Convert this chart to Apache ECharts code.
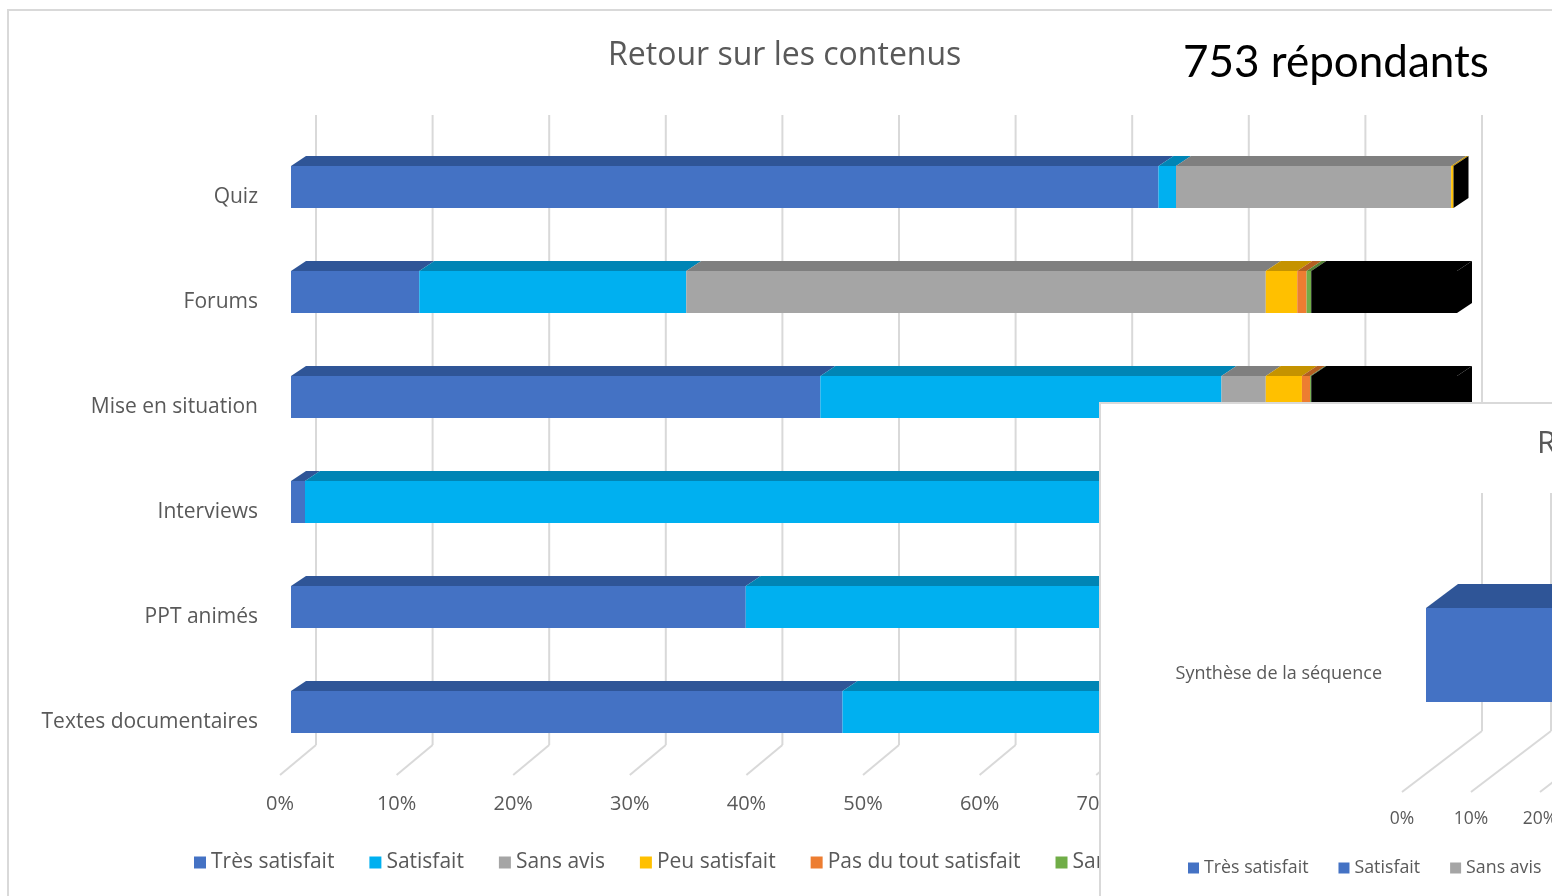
<!DOCTYPE html>
<html>
<head>
<meta charset="utf-8">
<script src="https://cdn.jsdelivr.net/npm/echarts@6/dist/echarts.min.js"></script>
<style>
  html, body { margin: 0; padding: 0; background: #fff; }
  #chart { width: 1552px; height: 896px; }
</style>
</head>
<body>
<div id="chart"></div>
<script>
// donnees (en %)
var categories = ['Quiz', 'Forums', 'Mise en situation', 'Interviews', 'PPT animés', 'Textes documentaires'];
var seriesNames = ['Très satisfait', 'Satisfait', 'Sans avis', 'Peu satisfait', 'Pas du tout satisfait', 'Sans réponse', 'Non concerné'];
var tresSatisfait = [74.4, 11.0, 45.4, 1.2, 39.0, 47.3];
var satisfait = [1.5, 22.9, 34.4, 80.0, 42.0, 34.0];
var sansAvis = [23.6, 49.7, 3.8, 5.0, 5.0, 4.5];
var peuSatisfait = [0.2, 2.7, 3.1, 1.3, 1.5, 1.5];
var pasDuTout = [0, 0.8, 0.7, 0.3, 0.3, 0.4];
var sansReponse = [0, 0.4, 0.1, 0.2, 0.2, 0.3];
var nonConcerne = [0, 12.5, 12.5, 12.0, 12.0, 12.0];
var xTicks = [0, 10, 20, 30, 40, 50, 60, 70, 80, 90, 100];

// deuxieme graphique (en partie cache)
var synthCategories = ['Synthèse de la séquence'];
var synthNames = ['Très satisfait', 'Satisfait', 'Sans avis'];
var synthTres = [52];
var synthSatisfait = [38];
var synthSansAvis = [10];

var colors = ['#4472C4', '#00B0F0', '#A5A5A5', '#FFC000', '#ED7D31', '#70AD47', '#000000'];
var topColors = ['#2F5597', '#0085B5', '#7F7F7F', '#C59300', '#B35E22', '#548235', '#000000'];
var synthColors = ['#4472C4', '#4472C4', '#A5A5A5'];
var synthTopColors = ['#2F5597', '#2F5597', '#7F7F7F'];

var font = "'Open Sans', sans-serif";
var grey = '#595959';

// empilement : [debut, fin, indice categorie]
function stackData(lists) {
    var cum = lists[0].map(function () { return 0; });
    return lists.map(function (vals) {
        return vals.map(function (v, j) {
            var s = cum[j];
            cum[j] = s + v;
            return [s, s + v, j];
        });
    });
}

// barre pseudo 3D : face avant + dessus (+ cote pour la derniere serie)
function bar3d(color, top, withSide, d) {
    return function (params, api) {
        var s = api.value(0), e = api.value(1), c = api.value(2);
        var a = api.coord([s, c]);
        var b = api.coord([e, c]);
        var h = api.size([0, 1])[1] * 0.4;
        var y0 = a[1] - h / 2, y1 = a[1] + h / 2;
        var dx = d.dx;
        var children = [
            { type: 'polygon', shape: { points: [[a[0], y0], [b[0], y0], [b[0] + dx, y0 - d.dy], [a[0] + dx, y0 - d.dy]] }, style: { fill: top } },
            { type: 'rect', shape: { x: a[0], y: y0, width: b[0] - a[0], height: h }, style: { fill: color } }
        ];
        if (withSide) {
            children.push({ type: 'polygon', shape: { points: [[b[0], y0], [b[0] + dx, y0 - d.dy], [b[0] + dx, y1 - d.dy], [b[0], y1]] }, style: { fill: top } });
        }
        return { type: 'group', children: children };
    };
}

// quadrillage : mur du fond + sol en biais
function gridLines(back, up, down, fx, fy) {
    return function (params, api) {
        var x = api.coord([api.value(0), 0])[0];
        var cs = params.coordSys;
        var yb = cs.y + cs.height - down;
        return {
            type: 'group',
            children: [
                { type: 'line', shape: { x1: x + back, y1: cs.y - up, x2: x + back, y2: yb }, style: { stroke: '#D9D9D9', lineWidth: 2 } },
                { type: 'line', shape: { x1: x + back, y1: yb, x2: x + fx, y2: yb + fy }, style: { stroke: '#D9D9D9', lineWidth: 2 } }
            ]
        };
    };
}

var mainStack = stackData([tresSatisfait, satisfait, sansAvis, peuSatisfait, pasDuTout, sansReponse, nonConcerne]);
var synthStack = stackData([synthTres, synthSatisfait, synthSansAvis]);

var series = [];
series.push({
    type: 'custom', name: 'grille', xAxisIndex: 0, yAxisIndex: 0, z: 1, silent: true,
    data: xTicks.map(function (v) { return [v]; }),
    encode: { x: 0 },
    renderItem: gridLines(25, 19.5, 19.5, -11, 30)
});
seriesNames.forEach(function (name, i) {
    series.push({
        type: 'custom', name: name, xAxisIndex: 0, yAxisIndex: 0, z: 2,
        itemStyle: { color: colors[i] },
        data: mainStack[i],
        encode: { x: [0, 1], y: 2 },
        renderItem: bar3d(colors[i], topColors[i], i === seriesNames.length - 1, { dx: 15, dy: 10 })
    });
});
series.push({
    type: 'custom', name: 'grille2', xAxisIndex: 1, yAxisIndex: 1, z: 29, silent: true,
    data: xTicks.map(function (v) { return [v]; }),
    encode: { x: 0 },
    renderItem: gridLines(56, 44.5, 41.5, -24, 61)
});
synthNames.forEach(function (name, i) {
    series.push({
        type: 'custom', name: name, xAxisIndex: 1, yAxisIndex: 1, z: 30,
        itemStyle: { color: synthColors[i] },
        data: synthStack[i],
        encode: { x: [0, 1], y: 2 },
        renderItem: bar3d(synthColors[i], synthTopColors[i], i === synthNames.length - 1, { dx: 32, dy: 24 })
    });
});

var myChart = echarts.init(document.getElementById('chart'));
var option = {
    animation: false,
    backgroundColor: '#fff',
    title: [
        { text: 'Retour sur les contenus', left: 608, top: 40, padding: 0, textStyle: { fontFamily: font, fontSize: 32, fontWeight: 'normal', color: grey } },
        { text: '753 répondants', left: 1183, top: 41, padding: 0, textStyle: { fontFamily: 'Lato, sans-serif', fontSize: 44, fontWeight: 'normal', color: '#000' } },
        { text: 'Retour sur la synthèse', left: 1537, top: 429, padding: 0, z: 30, textStyle: { fontFamily: font, fontSize: 31, fontWeight: 'normal', color: grey } }
    ],
    legend: [
        {
            data: seriesNames, left: 194, top: 852, padding: 0, icon: 'rect', itemWidth: 12, itemHeight: 12, itemGap: 35,
            textStyle: { fontFamily: font, fontSize: 21, color: grey }
        },
        {
            data: synthNames.map(function (n, i) { return { name: n, itemStyle: { color: synthColors[i] } }; }),
            left: 1188, top: 859, padding: 0, z: 30, icon: 'rect', itemWidth: 11, itemHeight: 11, itemGap: 30,
            textStyle: { fontFamily: font, fontSize: 17.8, color: grey }
        }
    ],
    grid: [
        { left: 291, width: 1166, top: 134.5, height: 630, outerBoundsMode: 'none' },
        { left: 1426, width: 690, top: 537.5, height: 235, outerBoundsMode: 'none' }
    ],
    xAxis: [
        {
            gridIndex: 0, type: 'value', min: 0, max: 100, interval: 10,
            axisLine: { show: false }, axisTick: { show: false }, splitLine: { show: false },
            axisLabel: { formatter: '{value}%', margin: 30, padding: [0, 22, 0, 0], fontFamily: font, fontSize: 20, color: grey }
        },
        {
            gridIndex: 1, type: 'value', min: 0, max: 100, interval: 10, z: 30,
            axisLine: { show: false }, axisTick: { show: false }, splitLine: { show: false },
            axisLabel: { formatter: '{value}%', margin: 38, padding: [0, 48, 0, 0], fontFamily: font, fontSize: 17.5, color: grey }
        }
    ],
    yAxis: [
        {
            gridIndex: 0, type: 'category', data: categories, inverse: true,
            axisLine: { show: false }, axisTick: { show: false }, splitLine: { show: false },
            axisLabel: { margin: 33, verticalAlign: 'top', lineHeight: 20, fontFamily: font, fontSize: 21, color: grey }
        },
        {
            gridIndex: 1, type: 'category', data: synthCategories, inverse: true, z: 30,
            axisLine: { show: false }, axisTick: { show: false }, splitLine: { show: false },
            axisLabel: { margin: 44, verticalAlign: 'top', lineHeight: 38, fontFamily: font, fontSize: 18, color: grey }
        }
    ],
    graphic: [
        { type: 'rect', z: 0, silent: true, shape: { x: 8, y: 10, width: 1700, height: 1000 }, style: { fill: 'none', stroke: '#D9D9D9', lineWidth: 2 } },
        { type: 'rect', z: 20, silent: true, shape: { x: 1100, y: 403, width: 600, height: 600 }, style: { fill: '#fff', stroke: '#D9D9D9', lineWidth: 2 } }
    ],
    series: series
};
myChart.setOption(option);
window.onresize = myChart.resize;
</script>
</body>
</html>
